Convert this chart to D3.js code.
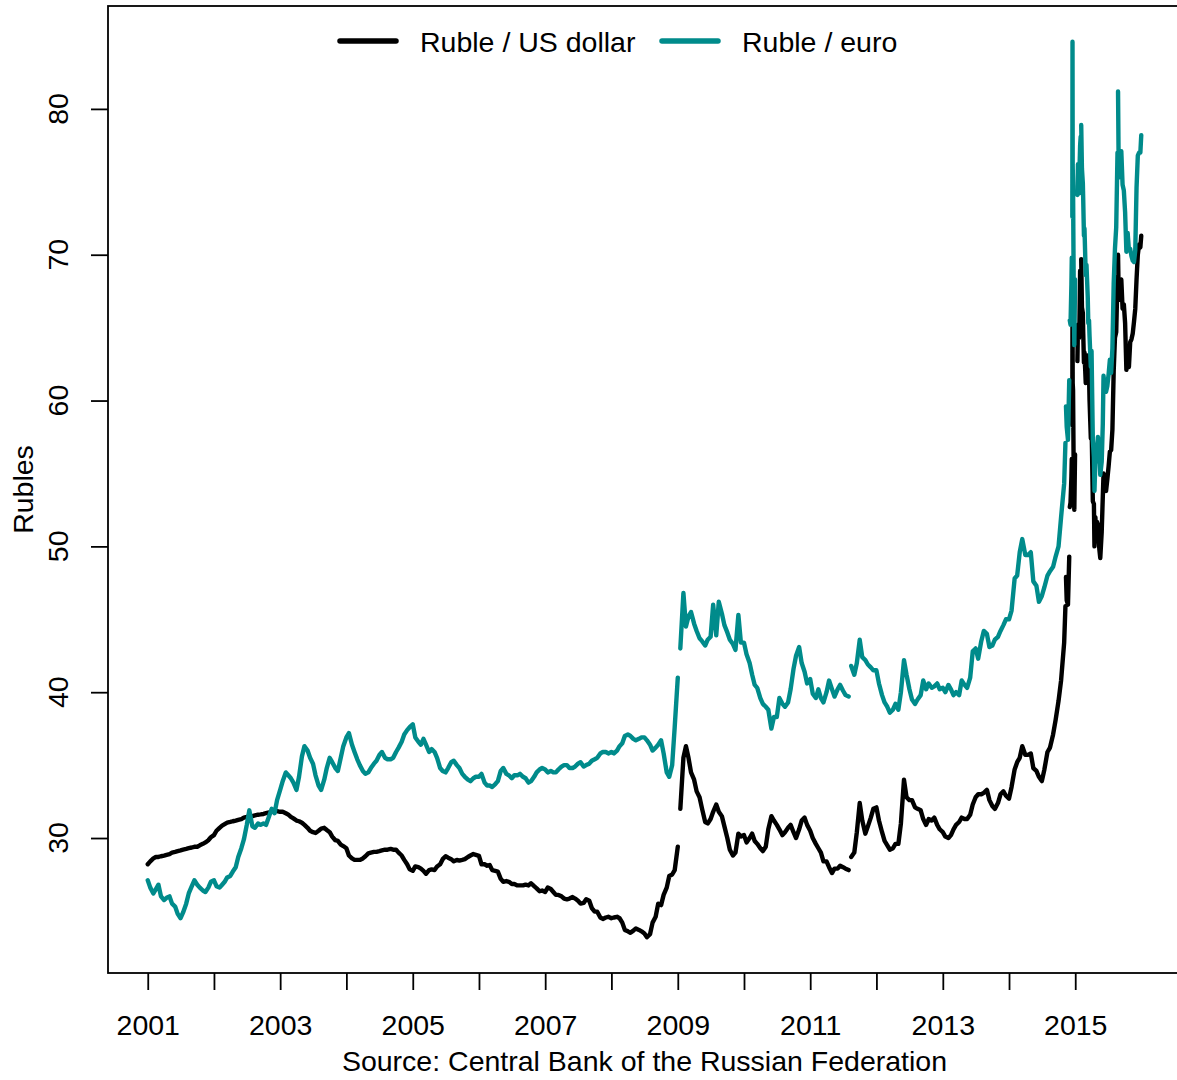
<!DOCTYPE html>
<html>
<head>
<meta charset="utf-8">
<script src="https://cdnjs.cloudflare.com/ajax/libs/d3/7.8.5/d3.min.js"></script>
<style>
  body { margin: 0; background: #fff; }
  text { font-family: "Liberation Sans", Arial, Helvetica, sans-serif; fill: #000; }
</style>
</head>
<body>
<div id="chart"></div>
<script>
// official CBR rates: twice a month, weekly from Nov 2014
// null = break in the line (holidays / weekends where the rate jumped)
var dates = [
  "2001-01-01","2001-01-15","2001-02-01","2001-02-15","2001-03-01","2001-03-15","2001-04-01","2001-04-15","2001-05-01","2001-05-15","2001-06-01","2001-06-15",
  "2001-07-01","2001-07-15","2001-08-01","2001-08-15","2001-09-01","2001-09-15","2001-10-01","2001-10-15","2001-11-01","2001-11-15","2001-12-01","2001-12-15",
  "2002-01-01","2002-01-15","2002-02-01","2002-02-15","2002-03-01","2002-03-15","2002-04-01","2002-04-15","2002-05-01","2002-05-15","2002-06-01","2002-06-15",
  "2002-07-01","2002-07-15","2002-08-01","2002-08-15","2002-09-01","2002-09-15","2002-10-01","2002-10-15","2002-11-01","2002-11-15","2002-12-01","2002-12-15",
  "2003-01-01","2003-01-15","2003-02-01","2003-02-15","2003-03-01","2003-03-15","2003-04-01","2003-04-15","2003-05-01","2003-05-15","2003-06-01","2003-06-15",
  "2003-07-01","2003-07-15","2003-08-01","2003-08-15","2003-09-01","2003-09-15","2003-10-01","2003-10-15","2003-11-01","2003-11-15","2003-12-01","2003-12-15",
  "2004-01-01","2004-01-15","2004-02-01","2004-02-15","2004-03-01","2004-03-15","2004-04-01","2004-04-15","2004-05-01","2004-05-15","2004-06-01","2004-06-15",
  "2004-07-01","2004-07-15","2004-08-01","2004-08-15","2004-09-01","2004-09-15","2004-10-01","2004-10-15","2004-11-01","2004-11-15","2004-12-01","2004-12-15",
  "2005-01-01","2005-01-15","2005-02-01","2005-02-15","2005-03-01","2005-03-15","2005-04-01","2005-04-15","2005-05-01","2005-05-15","2005-06-01","2005-06-15",
  "2005-07-01","2005-07-15","2005-08-01","2005-08-15","2005-09-01","2005-09-15","2005-10-01","2005-10-15","2005-11-01","2005-11-15","2005-12-01","2005-12-15",
  "2006-01-01","2006-01-15","2006-02-01","2006-02-15","2006-03-01","2006-03-15","2006-04-01","2006-04-15","2006-05-01","2006-05-15","2006-06-01","2006-06-15",
  "2006-07-01","2006-07-15","2006-08-01","2006-08-15","2006-09-01","2006-09-15","2006-10-01","2006-10-15","2006-11-01","2006-11-15","2006-12-01","2006-12-15",
  "2007-01-01","2007-01-15","2007-02-01","2007-02-15","2007-03-01","2007-03-15","2007-04-01","2007-04-15","2007-05-01","2007-05-15","2007-06-01","2007-06-15",
  "2007-07-01","2007-07-15","2007-08-01","2007-08-15","2007-09-01","2007-09-15","2007-10-01","2007-10-15","2007-11-01","2007-11-15","2007-12-01","2007-12-15",
  "2008-01-01","2008-01-15","2008-02-01","2008-02-15","2008-03-01","2008-03-15","2008-04-01","2008-04-15","2008-05-01","2008-05-15","2008-06-01","2008-06-15",
  "2008-07-01","2008-07-15","2008-08-01","2008-08-15","2008-09-01","2008-09-15","2008-10-01","2008-10-15","2008-11-01","2008-11-15","2008-12-01","2008-12-15",
  "2009-01-01","2009-01-05","2009-01-15","2009-02-01","2009-02-15","2009-03-01","2009-03-15","2009-04-01","2009-04-15","2009-05-01","2009-05-15","2009-06-01","2009-06-15",
  "2009-07-01","2009-07-15","2009-08-01","2009-08-15","2009-09-01","2009-09-15","2009-10-01","2009-10-15","2009-11-01","2009-11-15","2009-12-01","2009-12-15",
  "2010-01-01","2010-01-15","2010-02-01","2010-02-15","2010-03-01","2010-03-15","2010-04-01","2010-04-15","2010-05-01","2010-05-15","2010-06-01","2010-06-15",
  "2010-07-01","2010-07-15","2010-08-01","2010-08-15","2010-09-01","2010-09-15","2010-10-01","2010-10-15","2010-11-01","2010-11-15","2010-12-01","2010-12-15",
  "2011-01-01","2011-01-15","2011-02-01","2011-02-15","2011-03-01","2011-03-15","2011-04-01","2011-04-15","2011-05-01","2011-05-15","2011-06-01","2011-06-15","2011-07-01","2011-07-15",
  "2011-08-01","2011-08-08","2011-08-15","2011-09-01","2011-09-15","2011-10-01","2011-10-15","2011-11-01","2011-11-15","2011-12-01","2011-12-15",
  "2012-01-01","2012-01-15","2012-02-01","2012-02-15","2012-03-01","2012-03-15","2012-04-01","2012-04-15","2012-05-01","2012-05-15","2012-06-01","2012-06-15",
  "2012-07-01","2012-07-15","2012-08-01","2012-08-15","2012-09-01","2012-09-15","2012-10-01","2012-10-15","2012-11-01","2012-11-15","2012-12-01","2012-12-15",
  "2013-01-01","2013-01-15","2013-02-01","2013-02-15","2013-03-01","2013-03-15","2013-04-01","2013-04-15","2013-05-01","2013-05-15","2013-06-01","2013-06-15",
  "2013-07-01","2013-07-15","2013-08-01","2013-08-15","2013-09-01","2013-09-15","2013-10-01","2013-10-15","2013-11-01","2013-11-15","2013-12-01","2013-12-15",
  "2014-01-01","2014-01-15","2014-02-01","2014-02-15","2014-03-01","2014-03-15","2014-04-01","2014-04-15","2014-05-01","2014-05-15","2014-06-01","2014-06-15",
  "2014-07-01","2014-07-15","2014-08-01","2014-08-15","2014-09-01","2014-09-15","2014-10-01","2014-10-15",
  "2014-11-01","2014-11-08","2014-11-09","2014-11-11","2014-11-15","2014-11-22","2014-11-29","2014-11-30","2014-12-02","2014-12-06","2014-12-11","2014-12-13","2014-12-14",
  "2014-12-16","2014-12-17","2014-12-18","2014-12-20","2014-12-24","2014-12-27","2014-12-31",
  "2015-01-06","2015-01-13","2015-01-16","2015-01-22","2015-01-24","2015-01-28","2015-01-31",
  "2015-02-01","2015-02-03","2015-02-07","2015-02-12","2015-02-14","2015-02-18","2015-02-21","2015-02-28",
  "2015-03-04","2015-03-11","2015-03-14","2015-03-18","2015-03-21","2015-03-28",
  "2015-04-01","2015-04-08","2015-04-14","2015-04-17","2015-04-22","2015-04-25","2015-04-30",
  "2015-05-06","2015-05-14","2015-05-19","2015-05-27",
  "2015-06-02","2015-06-06","2015-06-13","2015-06-20","2015-06-27",
  "2015-07-04","2015-07-11","2015-07-18","2015-07-25",
  "2015-08-01","2015-08-08","2015-08-15","2015-08-22","2015-08-23","2015-08-25","2015-08-29",
  "2015-09-05","2015-09-12","2015-09-19","2015-09-26",
  "2015-10-03","2015-10-10","2015-10-17","2015-10-24","2015-10-31",
  "2015-11-07","2015-11-14","2015-11-21","2015-11-28",
  "2015-12-05","2015-12-12","2015-12-19","2015-12-26","2015-12-31"
];

var usdRub = [
  28.2,28.4,28.6,28.7,28.7,28.75,28.8,28.85,28.9,29.0,29.05,29.1,
  29.15,29.2,29.25,29.3,29.35,29.4,29.4,29.5,29.6,29.7,29.85,30.05,
  30.2,30.5,30.7,30.85,30.95,31.05,31.1,31.15,31.2,31.25,31.3,31.4,
  31.45,31.5,31.5,31.55,31.6,31.62,31.65,31.7,31.75,31.8,31.85,31.85,
  31.8,31.8,31.7,31.6,31.45,31.35,31.2,31.15,31.05,30.9,30.7,30.5,
  30.4,30.35,30.5,30.65,30.7,30.55,30.4,30.1,29.85,29.8,29.55,29.45,
  29.3,28.8,28.6,28.5,28.5,28.5,28.6,28.75,28.95,29.0,29.05,29.05,
  29.1,29.15,29.2,29.2,29.25,29.2,29.2,29.0,28.8,28.5,28.2,27.85,
  27.75,28.05,28.0,27.9,27.75,27.55,27.8,27.85,27.8,28.05,28.2,28.55,
  28.75,28.65,28.55,28.4,28.5,28.45,28.5,28.55,28.7,28.8,28.9,28.85,
  28.78,28.2,28.2,28.1,28.15,27.8,27.75,27.7,27.2,27.0,27.05,27.0,
  26.85,26.85,26.75,26.75,26.75,26.8,26.75,26.9,26.7,26.55,26.35,26.4,
  26.3,26.6,26.5,26.3,26.1,26.1,26.0,25.85,25.8,25.85,25.95,25.85,
  25.7,25.5,25.55,25.8,25.7,25.2,24.95,24.95,24.55,24.45,24.55,24.6,
  24.5,24.55,24.6,24.5,24.2,23.7,23.6,23.5,23.65,23.8,23.7,23.6,
  23.45,23.2,23.4,24.2,24.6,25.5,25.4,26.1,26.6,27.4,27.5,27.8,
  29.4,null,32.0,35.5,36.3,35.5,34.5,34.0,33.2,32.8,32.0,31.1,31.0,
  31.3,31.8,32.3,31.8,31.5,30.8,30.0,29.2,28.8,29.0,30.3,30.1,
  30.2,29.7,30.0,30.3,29.8,29.6,29.3,29.1,29.4,30.6,31.5,31.2,
  30.9,30.6,30.2,30.4,30.7,30.9,30.4,30.0,30.6,31.2,31.4,30.9,
  30.5,30.0,29.6,29.3,29.0,28.4,28.4,28.0,27.6,27.9,27.9,28.1,28.0,27.9,
  27.8,null,28.7,29.0,30.4,32.4,31.2,30.3,30.8,31.4,32.0,
  32.1,31.2,30.4,29.8,29.5,29.2,29.3,29.6,29.6,31.0,34.0,32.8,
  32.6,32.6,32.1,32.0,31.9,31.3,30.9,31.3,31.2,31.4,30.9,30.6,
  30.4,30.1,30.0,30.2,30.6,30.9,31.1,31.4,31.3,31.3,31.6,32.3,
  32.8,33.0,33.0,33.1,33.3,32.6,32.2,32.0,32.4,33.0,33.2,32.9,
  32.7,33.5,34.7,35.2,35.5,36.3,35.7,35.7,35.8,34.8,34.6,34.2,
  33.9,34.7,35.9,36.2,37.1,38.1,39.4,40.8,
  43.4,45.9,null,47.9,46.3,46.0,49.3,null,52.7,53.0,54.8,56.0,null,
  58.3,67.8,61.2,60.7,54.4,52.5,56.3,
  null,62.7,65.2,64.3,65.0,68.9,68.9,
  null,69.7,66.4,66.0,64.7,62.6,63.3,61.2,
  62.0,63.1,62.1,61.8,60.0,57.4,
  58.5,53.1,52.9,50.0,52.0,51.3,51.7,
  51.5,49.8,49.2,51.0,
  53.4,55.0,54.1,53.8,54.6,
  55.5,56.5,56.6,58.0,
  62.0,64.3,64.7,68.5,null,70.0,66.9,
  67.7,68.3,66.3,66.6,
  65.3,62.1,62.9,62.3,64.0,
  64.2,64.6,65.4,66.3,
  68.3,70.0,70.7,70.5,71.3
];

var eurRub = [
  27.1,26.6,26.2,26.5,26.8,26.0,25.75,25.9,26.0,25.5,25.3,24.8,
  24.5,24.9,25.5,26.2,26.7,27.1,26.8,26.6,26.4,26.3,26.6,27.0,
  27.1,26.7,26.6,26.8,27.0,27.3,27.4,27.7,28.0,28.7,29.3,29.9,
  30.9,31.9,30.8,30.7,31.0,30.9,31.0,30.9,31.5,32.0,31.7,32.6,
  33.3,33.9,34.5,34.3,34.1,33.8,33.3,34.2,35.6,36.3,36.0,35.5,
  35.1,34.3,33.6,33.3,34.0,34.8,35.5,35.2,34.8,34.6,35.5,36.3,
  36.9,37.2,36.4,35.9,35.4,35.0,34.6,34.4,34.5,34.8,35.1,35.3,
  35.7,35.9,35.5,35.4,35.4,35.5,35.9,36.2,36.6,37.1,37.4,37.6,
  37.8,36.9,36.6,36.4,36.8,36.4,35.9,36.1,35.9,35.5,34.8,34.6,
  34.5,34.8,35.2,35.3,35.0,34.8,34.4,34.2,34.0,33.9,34.1,34.2,
  34.2,34.4,33.8,33.6,33.6,33.5,33.7,33.9,34.6,34.8,34.4,34.3,
  34.1,34.3,34.3,34.4,34.2,34.1,33.8,33.9,34.2,34.5,34.7,34.8,
  34.7,34.5,34.6,34.5,34.5,34.7,34.9,35.0,35.0,34.8,34.8,34.9,
  35.1,35.2,34.9,35.0,35.1,35.3,35.4,35.5,35.8,35.9,35.9,35.8,
  35.9,35.8,36.0,36.3,36.5,37.0,37.1,37.0,36.8,36.7,36.8,36.9,
  36.9,36.7,36.4,36.0,36.2,36.4,36.7,35.8,34.5,34.2,35.0,37.6,
  41.0,null,43.0,46.8,44.5,45.2,45.5,44.7,44.2,43.7,43.5,43.2,43.6,
  43.8,46.0,43.9,46.2,45.4,44.6,44.1,43.6,43.3,42.9,45.3,43.4,
  43.4,42.6,42.0,41.2,40.5,40.3,39.6,39.2,39.0,38.8,37.5,38.3,
  38.3,39.6,39.2,39.0,39.3,40.2,41.6,42.5,43.1,42.0,41.4,40.6,
  40.9,39.9,39.6,40.2,39.6,39.3,40.0,40.8,40.2,39.7,40.2,40.5,40.1,39.8,
  39.7,null,41.8,41.2,42.0,43.6,42.4,42.2,41.9,41.7,41.5,
  41.5,40.6,39.8,39.3,39.0,38.6,38.8,39.2,38.8,40.0,42.2,41.2,
  40.2,39.5,39.2,39.5,39.8,40.8,40.2,40.6,40.3,40.4,40.6,40.2,
  40.3,40.0,40.5,40.2,39.8,40.0,39.8,40.8,40.5,40.3,41.0,42.8,
  43.0,42.3,43.5,44.2,44.0,43.1,43.2,43.6,43.8,44.2,44.6,45.0,
  45.0,45.6,47.8,48.0,49.6,50.5,49.4,49.4,49.6,47.6,47.3,46.2,
  46.6,47.2,48.0,48.3,48.6,49.3,50.0,52.0,
  54.3,57.1,null,59.6,58.2,57.3,61.4,null,65.5,65.2,68.0,69.8,null,
  72.6,84.6,76.1,74.7,67.0,63.8,68.3,
  null,74.1,76.2,74.2,75.6,77.5,78.1,
  null,78.9,75.9,74.9,73.8,71.3,71.8,68.6,
  69.3,67.1,65.3,65.5,64.4,62.3,
  63.4,57.3,56.1,53.8,55.8,55.8,56.5,
  57.5,56.6,54.9,55.8,
  58.4,61.7,60.9,60.6,61.0,
  61.8,62.8,61.9,63.6,
  68.0,70.4,71.9,77.0,null,81.2,75.3,
  75.4,77.1,74.8,74.4,
  72.9,70.2,71.5,70.3,70.4,
  69.9,69.6,69.5,70.3,
  74.6,76.8,77.0,77.0,78.2
];

var years = [2001,2002,2003,2004,2005,2006,2007,2008,2009,2010,2011,2012,2013,2014,2015];
var yTicks = [30, 40, 50, 60, 70, 80];
var seriesNames = ["Ruble / US dollar", "Ruble / euro"];
var seriesColors = ["#000000", "#008b8b"];

var width = 1177, height = 1080;
// plot box, the right side runs just past the picture edge like the original
var box = {left: 108, right: 1181, top: 6, bottom: 973};
var fontSize = 28.5;

var parse = d3.timeParse("%Y-%m-%d");
var t = dates.map(parse);

var xPad = (t[t.length - 1] - t[0]) * 0.04;
var x = d3.scaleTime()
  .domain([new Date(+t[0] - xPad), new Date(+t[t.length - 1] + xPad)])
  .range([box.left, box.right]);

var allVals = usdRub.concat(eurRub).filter(function(v) { return v != null; });
var yMin = d3.min(allVals), yMax = d3.max(allVals), yPad = (yMax - yMin) * 0.04;
var y = d3.scaleLinear()
  .domain([yMin - yPad, yMax + yPad])
  .range([box.bottom, box.top]);

var svg = d3.select("#chart").append("svg")
  .attr("width", width)
  .attr("height", height);

// x axis: a tick every year, labels on odd years
var xAxis = d3.axisBottom(x)
  .tickValues(years.map(function(yr) { return new Date(yr, 0, 1); }))
  .tickSize(17)
  .tickPadding(25)
  .tickFormat(function(d) { var yr = d.getFullYear(); return yr % 2 == 1 ? yr : ""; });

var gx = svg.append("g")
  .attr("transform", "translate(0," + box.bottom + ")")
  .call(xAxis);
gx.select(".domain").remove();
gx.selectAll("line").attr("stroke", "#000").attr("stroke-width", 1.8);
gx.selectAll("text").style("font-size", fontSize + "px");

// y axis ticks, labels turned like R's las=0
var yAxis = d3.axisLeft(y).tickValues(yTicks).tickSize(17).tickFormat("");
var gy = svg.append("g")
  .attr("transform", "translate(" + box.left + ",0)")
  .call(yAxis);
gy.select(".domain").remove();
gy.selectAll("line").attr("stroke", "#000").attr("stroke-width", 1.8);

svg.selectAll(".ylab")
  .data(yTicks)
  .enter().append("text")
  .attr("class", "ylab")
  .attr("transform", function(d) { return "translate(68," + y(d) + ") rotate(-90)"; })
  .attr("text-anchor", "middle")
  .style("font-size", fontSize + "px")
  .text(function(d) { return d; });

svg.append("text")
  .attr("transform", "translate(33," + ((box.top + box.bottom) / 2) + ") rotate(-90)")
  .attr("text-anchor", "middle")
  .style("font-size", fontSize + "px")
  .text("Rubles");

svg.append("text")
  .attr("x", (box.left + box.right) / 2)
  .attr("y", 1071)
  .attr("text-anchor", "middle")
  .style("font-size", fontSize + "px")
  .text("Source: Central Bank of the Russian Federation");

// the two series
var series = [usdRub, eurRub].map(function(vals, i) {
  return {
    name: seriesNames[i],
    color: seriesColors[i],
    values: vals.map(function(v, j) { return {t: t[j], v: v}; })
  };
});

var line = d3.line()
  .defined(function(d) { return d.v != null; })
  .x(function(d) { return x(d.t); })
  .y(function(d) { return y(d.v); });

svg.selectAll(".series")
  .data(series)
  .enter().append("path")
  .attr("class", "series")
  .attr("d", function(d) { return line(d.values); })
  .attr("fill", "none")
  .attr("stroke", function(d) { return d.color; })
  .attr("stroke-width", 4.4)
  .attr("stroke-linejoin", "round")
  .attr("stroke-linecap", "round");

// box
svg.append("rect")
  .attr("x", box.left)
  .attr("y", box.top)
  .attr("width", box.right - box.left)
  .attr("height", box.bottom - box.top)
  .attr("fill", "none")
  .attr("stroke", "#000")
  .attr("stroke-width", 1.8);

// legend across the top
var legendX = [340, 662];
var legend = svg.selectAll(".legend")
  .data(series)
  .enter().append("g")
  .attr("class", "legend")
  .attr("transform", function(d, i) { return "translate(" + legendX[i] + ",41)"; });

legend.append("line")
  .attr("x1", 0).attr("x2", 56)
  .attr("y1", 0).attr("y2", 0)
  .attr("stroke", function(d) { return d.color; })
  .attr("stroke-width", 5.5)
  .attr("stroke-linecap", "round");

legend.append("text")
  .attr("x", 80)
  .attr("y", 10.5)
  .style("font-size", fontSize + "px")
  .text(function(d) { return d.name; });
</script>
</body>
</html>
